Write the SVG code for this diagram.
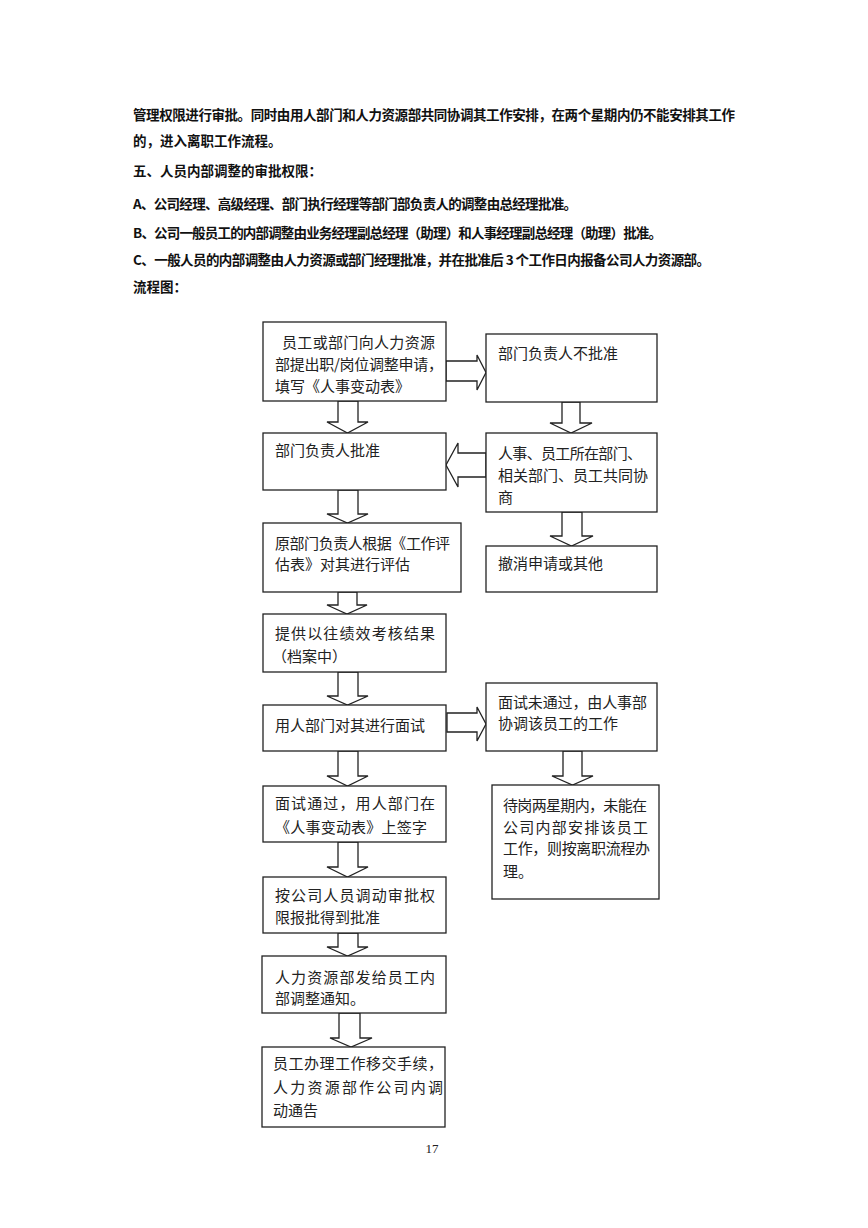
<svg xmlns="http://www.w3.org/2000/svg" width="868" height="1228" viewBox="0 0 868 1228">
<style>
.hd{font-family:"Noto Sans CJK SC","Noto Sans",sans-serif;font-size:13.5px;font-weight:bold;fill:#111}
.t{font-family:"Noto Sans CJK SC","Noto Sans",sans-serif;font-size:15px;fill:#222}
.box{fill:#fff;stroke:#222;stroke-width:1.3}
.ar{fill:#fff;stroke:#222;stroke-width:1.3;stroke-linejoin:miter}
.pg{font-family:"Liberation Serif",serif;font-size:13px;fill:#222}
</style>
<rect width="868" height="1228" fill="#fff"/>
<g id="header">
<text class="hd" x="133" y="120" textLength="602" lengthAdjust="spacing">管理权限进行审批。同时由用人部门和人力资源部共同协调其工作安排，在两个星期内仍不能安排其工作</text>
<text class="hd" x="133" y="146">的，进入离职工作流程。</text>
<text class="hd" x="133" y="176">五、人员内部调整的审批权限：</text>
<text class="hd" x="133" y="209" textLength="444" lengthAdjust="spacing">A、公司经理、高级经理、部门执行经理等部门部负责人的调整由总经理批准。</text>
<text class="hd" x="133" y="238" textLength="529" lengthAdjust="spacing">B、公司一般员工的内部调整由业务经理副总经理（助理）和人事经理副总经理（助理）批准。</text>
<text class="hd" x="133" y="265" textLength="577" lengthAdjust="spacing">C、一般人员的内部调整由人力资源或部门经理批准，并在批准后 3 个工作日内报备公司人力资源部。</text>
<text class="hd" x="133" y="292">流程图：</text>
</g>
<g id="connectors">
<polygon class="ar" points="338,401 358,401 358,422 368,422 347.5,433 327,422 338,422"/>
<polygon class="ar" points="562,402 580,402 580,423 592,423 571,433 550,423 562,423"/>
<polygon class="ar" points="338,490 358,490 358,514 368,514 347.5,523 327,514 338,514"/>
<polygon class="ar" points="562,512 582,512 582,536 593,536 571.5,546 550,536 562,536"/>
<polygon class="ar" points="338,592 357,592 357,605 367,605 347,614 327,605 338,605"/>
<polygon class="ar" points="338,672 358,672 358,696 368,696 347.5,705 327,696 338,696"/>
<polygon class="ar" points="338,751 358,751 358,776 368,776 347.5,786 327,776 338,776"/>
<polygon class="ar" points="563,751 582,751 582,776 593,776 572.5,785 552,776 563,776"/>
<polygon class="ar" points="338,842 358,842 358,867 368,867 347.5,877 327,867 338,867"/>
<polygon class="ar" points="338,933 358,933 358,947 368,947 347.5,956 327,947 338,947"/>
<polygon class="ar" points="339,1013 360,1013 360,1038 372,1038 351,1047 330,1038 339,1038"/>
<polygon class="ar" points="446,361 477,361 477,355 486,372.5 477,390 477,381 446,381"/>
<polygon class="ar" points="486,453 458,453 458,443 446,465 458,487 458,477 486,477"/>
<polygon class="ar" points="447,713 477,713 477,707 486,724 477,741 477,732 447,732"/>
</g>
<g id="n1"><rect class="box" x="263" y="322" width="183" height="79"/>
<text class="t" x="282" y="348" textLength="153" lengthAdjust="spacing">员工或部门向人力资源</text>
<text class="t" x="275" y="370" textLength="168" lengthAdjust="spacing">部提出职/岗位调整申请，</text>
<text class="t" x="275" y="392">填写《人事变动表》</text></g>
<g id="n2"><rect class="box" x="263" y="433" width="183" height="57"/>
<text class="t" x="275" y="456">部门负责人批准</text></g>
<g id="n3"><rect class="box" x="263" y="523" width="198" height="69"/>
<text class="t" x="275" y="549" textLength="175" lengthAdjust="spacing">原部门负责人根据《工作评</text>
<text class="t" x="275" y="570">估表》对其进行评估</text></g>
<g id="n4"><rect class="box" x="263" y="614" width="183" height="58"/>
<text class="t" x="275" y="639" textLength="160" lengthAdjust="spacing">提供以往绩效考核结果</text>
<text class="t" x="272" y="662">（档案中）</text></g>
<g id="n5"><rect class="box" x="263" y="705" width="183" height="46"/>
<text class="t" x="275" y="731">用人部门对其进行面试</text></g>
<g id="n6"><rect class="box" x="263" y="786" width="183" height="56"/>
<text class="t" x="275" y="809" textLength="160" lengthAdjust="spacing">面试通过，用人部门在</text>
<text class="t" x="275" y="833" textLength="152" lengthAdjust="spacing">《人事变动表》上签字</text></g>
<g id="n7"><rect class="box" x="263" y="877" width="183" height="56"/>
<text class="t" x="275" y="901" textLength="160" lengthAdjust="spacing">按公司人员调动审批权</text>
<text class="t" x="275" y="923">限报批得到批准</text></g>
<g id="n8"><rect class="box" x="262" y="956" width="184" height="57"/>
<text class="t" x="275" y="983" textLength="160" lengthAdjust="spacing">人力资源部发给员工内</text>
<text class="t" x="275" y="1004">部调整通知。</text></g>
<g id="n9"><rect class="box" x="262" y="1047" width="183" height="80"/>
<text class="t" x="273" y="1069" textLength="170" lengthAdjust="spacing">员工办理工作移交手续，</text>
<text class="t" x="273" y="1093" textLength="170" lengthAdjust="spacing">人力资源部作公司内调</text>
<text class="t" x="273" y="1116">动通告</text></g>
<g id="r1"><rect class="box" x="486" y="334" width="171" height="68"/>
<text class="t" x="498" y="359">部门负责人不批准</text></g>
<g id="r2"><rect class="box" x="486" y="433" width="171" height="79"/>
<text class="t" x="498" y="459" textLength="144" lengthAdjust="spacing">人事、员工所在部门、</text>
<text class="t" x="498" y="481" textLength="150" lengthAdjust="spacing">相关部门、员工共同协</text>
<text class="t" x="498" y="503">商</text></g>
<g id="r3"><rect class="box" x="486" y="546" width="171" height="46"/>
<text class="t" x="498" y="569">撤消申请或其他</text></g>
<g id="r4"><rect class="box" x="486" y="683" width="171" height="68"/>
<text class="t" x="498" y="708" textLength="149" lengthAdjust="spacing">面试未通过，由人事部</text>
<text class="t" x="498" y="729">协调该员工的工作</text></g>
<g id="r5"><rect class="box" x="492" y="785" width="167" height="114"/>
<text class="t" x="503" y="811" textLength="144" lengthAdjust="spacing">待岗两星期内，未能在</text>
<text class="t" x="503" y="833" textLength="145" lengthAdjust="spacing">公司内部安排该员工</text>
<text class="t" x="503" y="854" textLength="147" lengthAdjust="spacing">工作，则按离职流程办</text>
<text class="t" x="503" y="877">理。</text></g>
<text class="pg" x="432" y="1153" text-anchor="middle">17</text>
</svg>
